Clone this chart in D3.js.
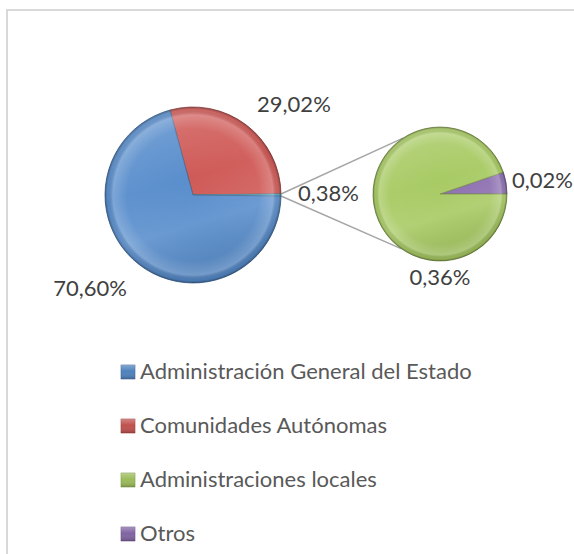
<!DOCTYPE html>
<html>
<head>
<meta charset="utf-8">
<script src="https://cdn.jsdelivr.net/npm/d3@7"></script>
<style>
    body { margin: 0; background: #fff; }
    svg { display: block; }
</style>
</head>
<body>
<svg id="chart" width="574" height="554"></svg>
<script>
// Data
const categories = ["Administración General del Estado", "Comunidades Autónomas", "Administraciones locales", "Otros"];
const shares = [70.60, 29.02, 0.36, 0.02];
const colors = ["#4f81bd", "#c0504d", "#9bbb59", "#8064a2"];
const otherColor = "#4bacc6";
// which categories go to the small pie
const splitCats = ["Administraciones locales", "Otros"];

const fmt = v => d3.format(".2f")(v).replace(".", ",") + "%";

let viewPieOfPie = {
    render: function() {
        const svg = d3.select("#chart");
        svg.selectAll("*").remove();
        const defs = svg.append("defs");

        // Chart frame
        svg.append("rect")
            .attr("x", 7).attr("y", 10)
            .attr("width", 620).attr("height", 620)
            .attr("fill", "#fff")
            .attr("stroke", "#d9d9d9")
            .attr("stroke-width", 2);

        const mainPie = { cx: 193, cy: 195, r: 88, pad: 15 };
        const subPie = { cx: 440, cy: 194, r: 67, pad: 4 };

        // Split data
        const mainData = categories.map((c, i) => ({ name: c, value: shares[i], color: colors[i] }))
            .filter(d => !splitCats.includes(d.name));
        const subData = categories.map((c, i) => ({ name: c, value: shares[i], color: colors[i] }))
            .filter(d => splitCats.includes(d.name));
        const otherTotal = d3.sum(subData, d => d.value);

        // main pie order: red, other, blue; red ends at 3 o'clock
        const mainOrdered = [mainData[1], { name: "other", value: otherTotal, color: otherColor }, mainData[0]];
        const total = d3.sum(mainOrdered, d => d.value);
        const mainStart = Math.PI / 2 - 2 * Math.PI * (mainOrdered[0].value + otherTotal / 2) / total;
        const mainArcs = d3.pie().sort(null).value(d => d.value)
            .startAngle(mainStart).endAngle(mainStart + 2 * Math.PI)(mainOrdered);

        // small pie: purple ends at 3 o'clock
        const subOrdered = [subData[1], subData[0]];
        const subStart = Math.PI / 2 - 2 * Math.PI * subOrdered[0].value / otherTotal;
        const subArcs = d3.pie().sort(null).value(d => d.value)
            .startAngle(subStart).endAngle(subStart + 2 * Math.PI)(subOrdered);

        // Connector lines
        const otherArc = mainArcs[1];
        const connAngles = [-33 * Math.PI / 180, -145 * Math.PI / 180];
        const pt = (p, r, a) => [p.cx + r * Math.sin(a), p.cy - r * Math.cos(a)];
        [otherArc.startAngle, otherArc.endAngle].forEach((a, i) => {
            const p0 = pt(mainPie, mainPie.r, a),
                p1 = pt(subPie, subPie.r, connAngles[i]);
            svg.append("line")
                .attr("x1", p0[0]).attr("y1", p0[1])
                .attr("x2", p1[0]).attr("y2", p1[1])
                .attr("stroke", "#a6a6a6")
                .attr("stroke-width", 1.5);
        });

        // Gradients for the bevelled look
        const rim = defs.append("radialGradient").attr("id", "rim")
            .attr("cx", "50%").attr("cy", "50%").attr("r", "50%");
        rim.append("stop").attr("offset", "0%").attr("stop-color", "#fff").attr("stop-opacity", 0);
        rim.append("stop").attr("offset", "75%").attr("stop-color", "#fff").attr("stop-opacity", 0.04);
        rim.append("stop").attr("offset", "91%").attr("stop-color", "#fff").attr("stop-opacity", 0.22);
        rim.append("stop").attr("offset", "97%").attr("stop-color", "#000").attr("stop-opacity", 0.04);
        rim.append("stop").attr("offset", "100%").attr("stop-color", "#000").attr("stop-opacity", 0.3);
        const shine = defs.append("linearGradient").attr("id", "shine")
            .attr("x1", 0).attr("y1", 0).attr("x2", 0.3).attr("y2", 1);
        shine.append("stop").attr("offset", "0%").attr("stop-color", "#fff").attr("stop-opacity", 0.18);
        shine.append("stop").attr("offset", "50%").attr("stop-color", "#fff").attr("stop-opacity", 0.02);
        shine.append("stop").attr("offset", "75%").attr("stop-color", "#fff").attr("stop-opacity", 0.1);
        shine.append("stop").attr("offset", "100%").attr("stop-color", "#000").attr("stop-opacity", 0.08);

        const drawPie = function(p, arcs, labelAngleFn) {
            const g = svg.append("g").attr("transform", `translate(${p.cx},${p.cy})`);
            const arc = d3.arc().innerRadius(0).outerRadius(p.r);
            g.selectAll(".slice").data(arcs).enter().append("path")
                .attr("class", "slice")
                .attr("d", arc)
                .attr("fill", d => d3.color(d.data.color).brighter(0.2))
                .attr("stroke", d => d3.color(d.data.color).darker(0.8))
                .attr("stroke-width", 0.8);
            g.append("circle").attr("r", p.r).attr("fill", "url(#shine)");
            g.append("circle").attr("r", p.r).attr("fill", "url(#rim)");

            // Labels outside the slices
            arcs.forEach(d => {
                const a = labelAngleFn(d),
                    R = p.r + p.pad,
                    x = R * Math.sin(a),
                    y = -R * Math.cos(a);
                const s = Math.sin(a), c = Math.cos(a);
                let anchor = "middle", dy = 6;
                if (s > 0.35) anchor = "start";
                else if (s < -0.35) anchor = "end";
                if (c > 0.35) dy = -1;
                else if (c < -0.35) dy = 20;
                g.append("text")
                    .attr("x", x + (anchor === "start" ? 2 : anchor === "end" ? -3 : 0))
                    .attr("y", y + dy)
                    .attr("text-anchor", anchor)
                    .attr("fill", "#404040")
                    .attr("font-family", "Lato, 'Open Sans', sans-serif")
                    .attr("font-size", 22)
                    .text(fmt(d.value));
            });
        };

        const mid = d => (d.startAngle + d.endAngle) / 2;
        drawPie(mainPie, mainArcs, mid);
        // labels facing the connector lines move to the bottom
        drawPie(subPie, subArcs, d => {
            const m = ((mid(d) % (2 * Math.PI)) + 2 * Math.PI) % (2 * Math.PI);
            return (m > Math.PI && m < 2 * Math.PI - 0.3) ? Math.PI : m;
        });

        // Legend
        const legendY = d3.scalePoint().domain(categories).range([379, 541]);
        const lgrad = defs.append("linearGradient").attr("id", "lgrad")
            .attr("x1", 0).attr("y1", 0).attr("x2", 0).attr("y2", 1);
        lgrad.append("stop").attr("offset", "0%").attr("stop-color", "#fff").attr("stop-opacity", 0.3);
        lgrad.append("stop").attr("offset", "45%").attr("stop-color", "#fff").attr("stop-opacity", 0);
        lgrad.append("stop").attr("offset", "100%").attr("stop-color", "#000").attr("stop-opacity", 0.2);
        const legend = svg.append("g");
        const rows = legend.selectAll(".row").data(categories).enter().append("g")
            .attr("class", "row")
            .attr("transform", d => `translate(121,${legendY(d)})`);
        rows.append("rect")
            .attr("y", -14).attr("width", 14).attr("height", 14)
            .attr("fill", (d, i) => colors[i])
            .attr("stroke", (d, i) => d3.color(colors[i]).darker(0.6))
            .attr("stroke-width", 0.6);
        rows.append("rect")
            .attr("y", -14).attr("width", 14).attr("height", 14)
            .attr("fill", "url(#lgrad)");
        rows.append("text")
            .attr("x", 19)
            .attr("fill", "#595959")
            .attr("font-family", "Lato, 'Open Sans', sans-serif")
            .attr("font-size", 22)
            .text(d => d);
    }
}

viewPieOfPie.render();
</script>
</body>
</html>
